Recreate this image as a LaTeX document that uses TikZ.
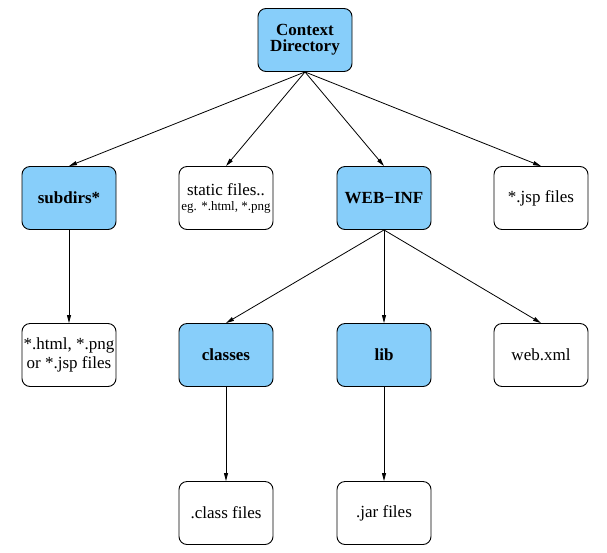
\documentclass[tikz,border=0pt]{standalone}
\usepackage{fontspec}
\setmainfont{Liberation Serif}
\usepackage{tikz}
\usetikzlibrary{arrows.meta}

\begin{document}
\begin{tikzpicture}[x=1pt, y=-1pt,
    box/.style={draw, line width=0.9pt, rounded corners=8pt, minimum width=94pt,
      minimum height=63pt, inner sep=0pt, align=center,
      font=\fontsize{17}{16}\selectfont},
    folder/.style={box, fill=lightblue, font=\fontsize{17}{16}\selectfont\bfseries},
    arrow/.style={line width=0.8pt, -{Triangle[length=8pt, width=4pt]}}]
          \definecolor{lightblue}{RGB}{135,206,250}
          \useasboundingbox (0,0) rectangle (607,552);

          % Racine
          \node[folder] (ctx) at (305,40) {Context\\Directory};

          % Deuxieme niveau
          \node[folder] (subdirs) at (69,198) {subdirs*};
          \node[box] (static) at (226,198) {static files..\\[-1pt]{\fontsize{13}{13}\selectfont eg. *.html, *.png}};
          \node[folder] (webinf) at (384,198) {WEB−INF};
          \node[box] (jsp) at (541,198) {*.jsp files};

          % Troisieme niveau
          \node[box, font=\fontsize{17}{19}\selectfont] (html) at (69,355) {*.html, *.png\\or *.jsp files};
          \node[folder] (classes) at (226,355) {classes};
          \node[folder] (lib) at (384,355) {lib};
          \node[box] (webxml) at (541,355) {web.xml};

          % Fichiers
          \node[box] (classfiles) at (226,513) {.class files};
          \node[box] (jarfiles) at (384,513) {.jar files};

          % Fleches
          \foreach \from/\to in {ctx/subdirs, ctx/static, ctx/webinf, ctx/jsp,
            subdirs/html, webinf/classes, webinf/lib, webinf/webxml,
            classes/classfiles, lib/jarfiles} {
            \draw[arrow] (\from.south) -- (\to.north);
          }
        \end{tikzpicture}
\end{document}
